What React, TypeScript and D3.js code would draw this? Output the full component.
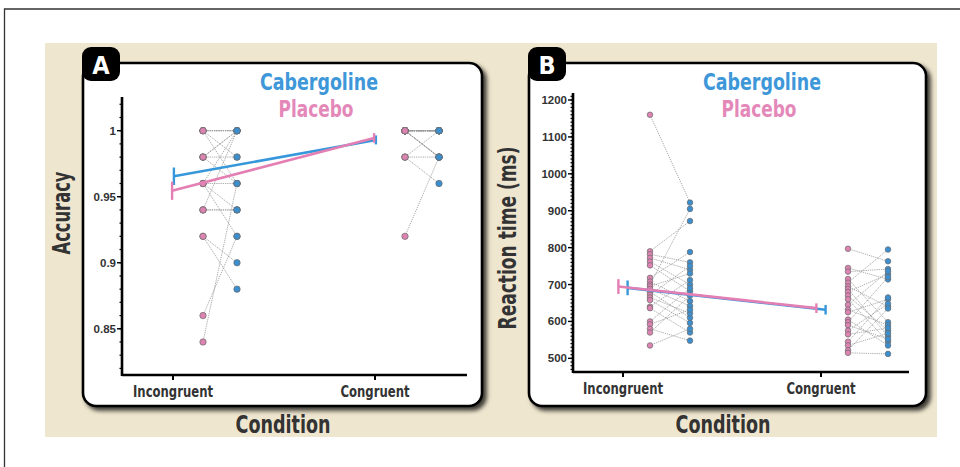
import React from "react";
import * as d3 from "d3";

const conditions = ["Incongruent", "Congruent"];

// Panel A - accuracy, one entry per subject (placebo[i] pairs with cabergoline[i])
const accPlaceboIncong = [1, 1, 1, 1, 1, 0.98, 0.98, 0.98, 0.98, 0.96, 0.96, 0.96, 0.96, 0.94, 0.94, 0.94, 0.92, 0.92, 0.86, 0.84];
const accCabIncong = [1, 1, 0.98, 0.96, 1, 1, 0.98, 0.96, 1, 0.96, 1, 0.94, 0.92, 0.94, 1, 0.94, 0.9, 0.88, 0.92, 0.96];
const accPlaceboCong = [1, 1, 1, 1, 1, 1, 1, 1, 1, 1, 1, 1, 1, 1, 1, 1, 0.98, 0.98, 0.98, 0.92];
const accCabCong = [1, 1, 1, 1, 1, 1, 1, 1, 1, 1, 1, 1, 0.98, 0.98, 0.98, 0.98, 1, 0.98, 0.96, 0.98];
const accMeanPlacebo = [0.9545, 0.9945];
const accMeanCab = [0.9655, 0.993];
const accSemPlacebo = [0.0069, 0.0036];
const accSemCab = [0.0066, 0.0034];
const accTicks = [0.85, 0.9, 0.95, 1];

// Panel B - reaction time (ms)
const rtPlaceboIncong = [1160, 790, 782, 772, 762, 752, 718, 708, 700, 695, 688, 680, 672, 665, 658, 640, 636, 600, 592, 580, 570, 535];
const rtCabIncong = [922, 872, 760, 740, 700, 682, 788, 655, 905, 730, 642, 610, 750, 622, 596, 712, 570, 690, 632, 548, 670, 580];
const rtPlaceboCong = [797, 745, 735, 715, 705, 695, 688, 680, 670, 660, 645, 632, 625, 605, 598, 590, 575, 565, 545, 535, 522, 515];
const rtCabCong = [763, 714, 742, 598, 795, 640, 560, 728, 575, 545, 736, 590, 660, 535, 720, 552, 648, 582, 665, 568, 635, 512];
const rtMeanPlacebo = [694.6, 636];
const rtMeanCab = [691, 631.7];
const rtSemPlacebo = [20, 13];
const rtSemCab = [20, 13];
const rtTicks = [500, 600, 700, 800, 900, 1000, 1100, 1200];

const PINK = "#dc83b2";
const BLUE = "#3c8fcf";
const PINK_LINE = "#e47fb4";
const BLUE_LINE = "#3797db";
const INK = "#333";
const NARROW = "'Liberation Sans Narrow', 'DejaVu Sans Condensed', 'Open Sans', sans-serif";
const SANS = "'Liberation Sans', Arial, sans-serif";

type PanelProps = {
  box: { x: number; y: number; w: number; h: number };
  tag: string;
  y: d3.ScaleLinear<number, number>;
  x: d3.ScalePoint<string>;
  axisX: number;
  xEnd: number;
  ticks: number[];
  minor: number[];
  tickFmt: (v: number) => string;
  placebo: number[][];
  cab: number[][];
  meanP: number[];
  meanC: number[];
  semP: number[];
  semC: number[];
  dodge: number;
  offP: number;
  offC: number;
  r: number;
  legendX: number;
  yTitle: string;
  yTitleX: number;
  yTitleY: number;
  yTitleLen: number;
  titleX: number;
};

function Panel(p: PanelProps) {
  const [y0, y1] = p.y.range();
  const ax = p.axisX;
  const mean = (vals: number[], sem: number[], off: number, color: string) => {
    const pts = conditions.map((c, i) => [p.x(c)! + off, p.y(vals[i])] as [number, number]);
    return (
      <g stroke={color} strokeWidth={2.4} fill="none">
        <path d={d3.line()(pts)!} strokeWidth={2.6} />
        {conditions.map((c, i) => (
          <line key={c} x1={pts[i][0]} x2={pts[i][0]} y1={p.y(vals[i] - sem[i])} y2={p.y(vals[i] + sem[i])} />
        ))}
      </g>
    );
  };
  return (
    <g>
      <rect x={p.box.x} y={p.box.y} width={p.box.w} height={p.box.h} rx={13} fill="#fff" stroke="#000" strokeWidth={2.6} filter="url(#shadow)" />
      <rect x={p.box.x - 1} y={p.box.y - 16} width={38} height={34} rx={9} fill="#000" />
      <text x={p.box.x + 18} y={p.box.y + 11} textAnchor="middle" fill="#fff" fontFamily={NARROW} fontWeight="bold" fontSize={25}>{p.tag}</text>

      <text x={p.legendX} y={90} textAnchor="middle" fill="#3d97d8" fontFamily={NARROW} fontWeight="bold" fontSize={23} textLength={118} lengthAdjust="spacingAndGlyphs">Cabergoline</text>
      <text x={p.legendX - 3} y={116.5} textAnchor="middle" fill="#e488b9" fontFamily={NARROW} fontWeight="bold" fontSize={23} textLength={75} lengthAdjust="spacingAndGlyphs">Placebo</text>

      {/* axes */}
      <g stroke="#000">
        {p.minor.map((v) => (
          <line key={"m" + v} x1={ax - 2.5} x2={ax} y1={p.y(v)} y2={p.y(v)} strokeWidth={1.2} />
        ))}
        {p.ticks.map((v) => (
          <line key={"t" + v} x1={ax - 5} x2={ax} y1={p.y(v)} y2={p.y(v)} strokeWidth={1.4} />
        ))}
        {conditions.map((c) => (
          <line key={c} x1={p.x(c)} x2={p.x(c)} y1={y0} y2={y0 + 5} strokeWidth={2} />
        ))}
        <line x1={ax} x2={ax} y1={y1} y2={y0 + 1} strokeWidth={2.6} />
        <line x1={ax} x2={p.xEnd} y1={y0} y2={y0} strokeWidth={2.6} />
      </g>
      {p.ticks.map((v) => (
        <text key={v} x={ax - 6} y={p.y(v) + 4} textAnchor="end" fontFamily={SANS} fontWeight="bold" fontSize={11.5} fill={INK}>{p.tickFmt(v)}</text>
      ))}
      {conditions.map((c) => (
        <text key={c} x={p.x(c)} y={y0 + 22} textAnchor="middle" fontFamily={NARROW} fontWeight="bold" fontSize={16} fill={INK} textLength={c === "Incongruent" ? 80 : 69} lengthAdjust="spacingAndGlyphs">{c}</text>
      ))}

      {/* subject pairs */}
      <g stroke="#999" strokeWidth={0.8} strokeDasharray="1.3,0.9" fill="none">
        {conditions.map((c, ci) =>
          p.placebo[ci].map((v, i) => (
            <line key={c + i} x1={p.x(c)! + p.offP} x2={p.x(c)! + p.offC} y1={p.y(v)} y2={p.y(p.cab[ci][i])} />
          ))
        )}
      </g>
      {conditions.map((c, ci) => (
        <g key={c} stroke="#6b6b6b" strokeWidth={0.7}>
          {p.placebo[ci].map((v, i) => (
            <circle key={"p" + i} cx={p.x(c)! + p.offP} cy={p.y(v)} r={p.r} fill={PINK} />
          ))}
          {p.cab[ci].map((v, i) => (
            <circle key={"c" + i} cx={p.x(c)! + p.offC} cy={p.y(v)} r={p.r} fill={BLUE} />
          ))}
        </g>
      ))}

      {mean(p.meanC, p.semC, p.dodge, BLUE_LINE)}
      {mean(p.meanP, p.semP, -p.dodge, PINK_LINE)}

      <text transform={`translate(${p.yTitleX},${p.yTitleY}) rotate(-90)`} textAnchor="middle" fontFamily={NARROW} fontWeight="bold" fontSize={24} fill={INK} textLength={p.yTitleLen} lengthAdjust="spacingAndGlyphs">{p.yTitle}</text>
      <text x={p.titleX} y={433} textAnchor="middle" fontFamily={NARROW} fontWeight="bold" fontSize={24} fill={INK} textLength={95} lengthAdjust="spacingAndGlyphs">Condition</text>
    </g>
  );
}

export default function App() {
  const xA = d3.scalePoint<string>().domain(conditions).range([173, 375]);
  const yA = d3.scaleLinear().domain([0.815, 1.0255]).range([375, 97]);
  const xB = d3.scalePoint<string>().domain(conditions).range([623, 821]);
  const yB = d3.scaleLinear().domain([463, 1219]).range([372, 93]);

  return (
    <svg width={960} height={467} style={{ position: "absolute", left: 0, top: 0, background: "#fff" }}>
      <defs>
        <filter id="shadow" x="-5%" y="-5%" width="115%" height="115%">
          <feDropShadow dx={3.5} dy={3.5} stdDeviation={2} floodColor="#000" floodOpacity={0.75} />
        </filter>
      </defs>
      <path d="M4.5,467 V9 H960" fill="none" stroke="#333" strokeWidth={1.3} />
      <rect x={45} y={43} width={892} height={394} fill="#efe6cf" />
      <Panel
        box={{ x: 83, y: 63, w: 399, h: 343 }}
        tag="A"
        x={xA}
        y={yA}
        axisX={122}
        xEnd={467}
        ticks={accTicks}
        minor={d3.range(82, 103).map((v) => v / 100)}
        tickFmt={(v) => String(v)}
        placebo={[accPlaceboIncong, accPlaceboCong]}
        cab={[accCabIncong, accCabCong]}
        meanP={accMeanPlacebo}
        meanC={accMeanCab}
        semP={accSemPlacebo}
        semC={accSemCab}
        dodge={0.9}
        offP={30}
        offC={64}
        r={3.2}
        legendX={319}
        yTitle="Accuracy"
        yTitleX={70}
        yTitleY={213}
        yTitleLen={83}
        titleX={283}
      />
      <Panel
        box={{ x: 529, y: 63, w: 397, h: 343 }}
        tag="B"
        x={xB}
        y={yB}
        axisX={573}
        xEnd={909}
        ticks={rtTicks}
        minor={d3.range(470, 1211, 10)}
        tickFmt={(v) => String(v)}
        placebo={[rtPlaceboIncong, rtPlaceboCong]}
        cab={[rtCabIncong, rtCabCong]}
        meanP={rtMeanPlacebo}
        meanC={rtMeanCab}
        semP={rtSemPlacebo}
        semC={rtSemCab}
        dodge={4.6}
        offP={27}
        offC={67}
        r={2.8}
        legendX={762}
        yTitle="Reaction time (ms)"
        yTitleX={516}
        yTitleY={238}
        yTitleLen={183}
        titleX={723}
      />
    </svg>
  );
}
